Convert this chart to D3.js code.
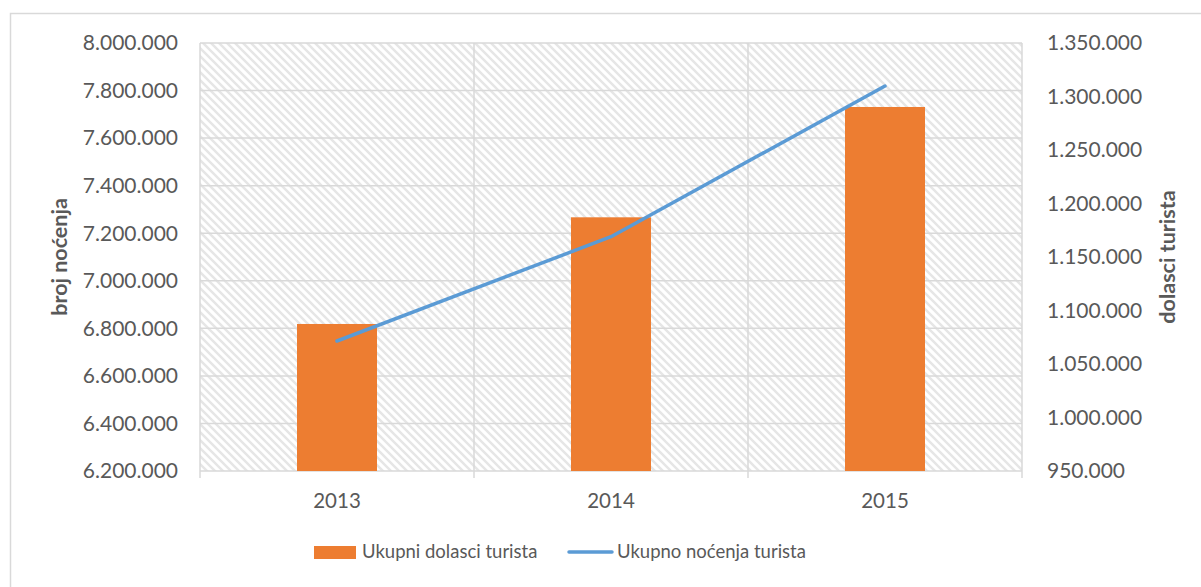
<!DOCTYPE html>
<html>
<head>
<meta charset="utf-8">
<script src="https://cdn.jsdelivr.net/npm/d3@7"></script>
<style>
  html, body { margin: 0; padding: 0; background: #fff; }
  svg { display: block; }
  text { font-family: "Lato", "Open Sans", sans-serif; fill: #595959; }
</style>
</head>
<body>
<svg id="chart" width="1201" height="587"></svg>
<script>
const years = ["2013", "2014", "2015"];
const arrivals = [1087400, 1187100, 1290200];      // Ukupni dolasci turista (right axis)
const overnights = [6746700, 7185400, 7819200];    // Ukupno noćenja turista (left axis)
const leftTicks = [6200000, 6400000, 6600000, 6800000, 7000000, 7200000, 7400000, 7600000, 7800000, 8000000];
const rightTicks = [950000, 1000000, 1050000, 1100000, 1150000, 1200000, 1250000, 1300000, 1350000];
const seriesNames = ["Ukupni dolasci turista", "Ukupno noćenja turista"];
const axisTitles = ["broj noćenja", "dolasci turista"];

const svg = d3.select("#chart");
const m = { left: 200, right: 1022, top: 43, bottom: 471 };
const fmt = v => d3.format(",")(v).replace(/,/g, ".");
const tickFs = 21, titleFs = 21.5, legendFs = 18.5;

// outer border
svg.append("rect").attr("x", 10.5).attr("y", 13.5).attr("width", 1220).attr("height", 620)
  .attr("fill", "none").attr("stroke", "#d9d9d9").attr("stroke-width", 1.5);

// hatch pattern
const defs = svg.append("defs");
const pat = defs.append("pattern").attr("id", "hatch").attr("patternUnits", "userSpaceOnUse")
  .attr("width", 8).attr("height", 8);
pat.append("rect").attr("width", 8).attr("height", 8).attr("fill", "#ffffff");
pat.append("path").attr("d", "M-2,-2 L10,10 M-10,-2 L2,10 M6,-2 L18,10")
  .attr("stroke", "#e6e6e6").attr("stroke-width", 2.4);

const x = d3.scaleBand().domain(years).range([m.left, m.right]);
const yL = d3.scaleLinear().domain([6200000, 8000000]).range([m.bottom, m.top]);
const yR = d3.scaleLinear().domain([950000, 1350000]).range([m.bottom, m.top]);

svg.append("rect").attr("x", m.left).attr("y", m.top).attr("width", m.right - m.left)
  .attr("height", m.bottom - m.top).attr("fill", "url(#hatch)");

// horizontal gridlines
svg.append("g").selectAll("line").data(leftTicks).join("line")
  .attr("x1", m.left).attr("x2", m.right)
  .attr("y1", d => yL(d)).attr("y2", d => yL(d))
  .attr("stroke", "#d9d9d9").attr("stroke-width", 1.5);

// vertical gridlines (category boundaries)
const bounds = years.map(d => x(d)).concat([m.right]);
svg.append("g").selectAll("line").data(bounds).join("line")
  .attr("x1", d => d).attr("x2", d => d)
  .attr("y1", m.top).attr("y2", m.bottom + 7)
  .attr("stroke", "#d9d9d9").attr("stroke-width", 1.5);

// left axis labels
svg.append("g").selectAll("text").data(leftTicks).join("text")
  .attr("x", 178).attr("y", d => yL(d)).attr("dy", "0.35em")
  .attr("text-anchor", "end").attr("font-size", tickFs).text(fmt);

// right axis labels
svg.append("g").selectAll("text").data(rightTicks).join("text")
  .attr("x", 1047).attr("y", d => yR(d)).attr("dy", "0.35em")
  .attr("text-anchor", "start").attr("font-size", tickFs).text(fmt);

// x labels
svg.append("g").selectAll("text").data(years).join("text")
  .attr("x", d => x(d) + x.bandwidth() / 2).attr("y", 501).attr("dy", "0.35em")
  .attr("text-anchor", "middle").attr("font-size", 20.5).text(d => d);

// axis titles
svg.append("text").attr("transform", `translate(67,${(m.top + m.bottom) / 2}) rotate(-90)`)
  .attr("text-anchor", "middle").attr("font-size", titleFs).attr("font-weight", "bold").text(axisTitles[0]);
svg.append("text").attr("transform", `translate(1175,${(m.top + m.bottom) / 2}) rotate(-90)`)
  .attr("text-anchor", "middle").attr("font-size", titleFs).attr("font-weight", "bold").text(axisTitles[1]);

// bars
const bw = 80;
svg.append("g").selectAll("rect").data(years).join("rect")
  .attr("x", d => x(d) + x.bandwidth() / 2 - bw / 2).attr("width", bw)
  .attr("y", (d, i) => yR(arrivals[i])).attr("height", (d, i) => m.bottom - yR(arrivals[i]))
  .attr("fill", "#ed7d31");

// line
const line = d3.line().x((d, i) => x(years[i]) + x.bandwidth() / 2).y(d => yL(d));
svg.append("path").datum(overnights).attr("d", line)
  .attr("fill", "none").attr("stroke", "#5b9bd5").attr("stroke-width", 3.5)
  .attr("stroke-linecap", "round").attr("stroke-linejoin", "round");

// legend
const lg = svg.append("g");
lg.append("rect").attr("x", 314).attr("y", 546).attr("width", 42).attr("height", 13).attr("fill", "#ed7d31");
lg.append("text").attr("x", 362).attr("y", 552).attr("dy", "0.35em").attr("font-size", legendFs).text(seriesNames[0]);
lg.append("line").attr("x1", 569).attr("x2", 612).attr("y1", 552).attr("y2", 552)
  .attr("stroke", "#5b9bd5").attr("stroke-width", 3.5).attr("stroke-linecap", "round");
lg.append("text").attr("x", 617).attr("y", 552).attr("dy", "0.35em").attr("font-size", legendFs).text(seriesNames[1]);
</script>
</body>
</html>
